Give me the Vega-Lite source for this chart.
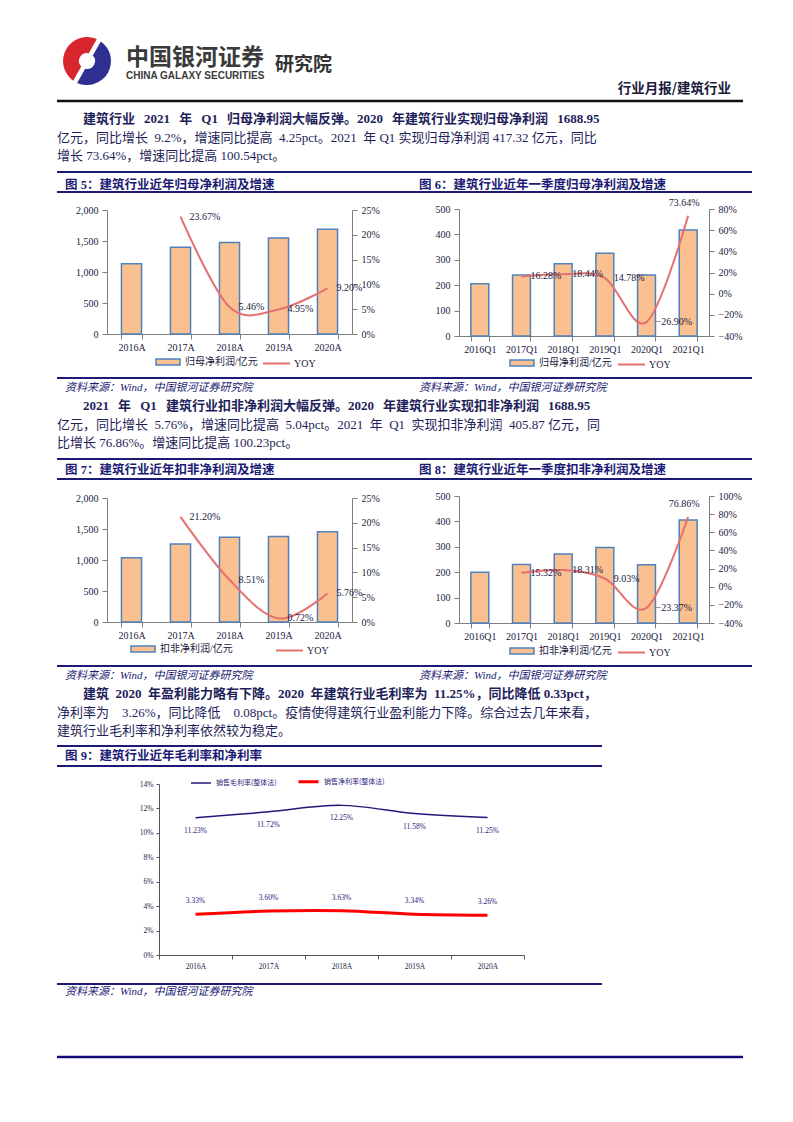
{
  "$schema": "https://vega.github.io/schema/vega-lite/v6.json",
  "usermeta": {"embedOptions": {"actions": false}},
  "background": "white",
  "padding": {"left": 55, "top": 36, "right": 5, "bottom": 5},
  "config": {
    "view": {"stroke": null},
    "font": "Liberation Serif, Noto Sans CJK SC",
    "axis": {"grid": false, "domainColor": "#7F7F7F", "tickColor": "#7F7F7F", "labelColor": "#1A1A40", "labelFont": "Liberation Serif, Noto Sans CJK SC", "labelFontSize": 10},
    "title": {"font": "Liberation Serif, Noto Sans CJK SC", "color": "#1B1A74", "anchor": "start", "frame": "group"},
    "legend": {"labelFont": "Liberation Serif, Noto Sans CJK SC", "labelColor": "#1A1A40", "padding": 0}
  },
  "bounds": "flush",
  "spacing": 0,
  "resolve": {"scale": {"fill": "independent", "stroke": "independent", "color": "independent", "strokeWidth": "independent", "theta": "independent"}},
  "vconcat": [
    {
      "bounds": "flush",
      "spacing": 9,
      "resolve": {"scale": {"color": "independent", "theta": "independent"}},
      "hconcat": [
        {
          "width": 60, "height": 50,
          "data": {"values": [{"part": "blue", "v": 1}, {"part": "red", "v": 1}]},
          "mark": {"type": "arc", "innerRadius": 8, "outerRadius": 24, "padAngle": 0.18},
          "encoding": {
            "theta": {"field": "v", "type": "quantitative", "stack": true, "scale": {"range": [0.52, 6.80]}},
            "color": {"field": "part", "type": "nominal", "scale": {"domain": ["blue", "red"], "range": ["#2E3192", "#D7262E"]}, "legend": null}
          }
        },
        {
          "width": 140, "height": 50,
          "data": {"values": [{}]},
          "mark": {"type": "text"},
          "encoding": {"text": {"value": ""}},
          "title": {"text": "中国银河证券", "subtitle": "CHINA GALAXY SECURITIES", "orient": "top", "anchor": "start", "offset": -45, "font": "Noto Sans CJK SC", "fontSize": 23, "fontWeight": "bold", "color": "#3A3A3A", "subtitleFont": "Liberation Sans Narrow, Liberation Sans", "subtitleFontSize": 10, "subtitleFontWeight": "bold", "subtitleColor": "#3A3A3A", "subtitlePadding": 1}
        },
        {
          "width": 60, "height": 50,
          "data": {"values": [{}]},
          "mark": {"type": "text"},
          "encoding": {"text": {"value": ""}},
          "title": {"text": "研究院", "orient": "top", "anchor": "start", "offset": -39, "font": "Noto Sans CJK SC", "fontSize": 19, "fontWeight": "bold", "color": "#333333"}
        }
      ]
    },
    {"width": 1, "height": 50, "data": {"values": [{}]}, "mark": {"type": "text"}, "encoding": {"text": {"value": ""}}},
    {
      "width": 686, "height": 15,
      "data": {"values": [{}]},
      "mark": {"type": "rule", "color": "#111111", "strokeWidth": 2.5},
      "encoding": {"y": {"datum": 0, "type": "quantitative", "scale": {"domain": [0, 1]}, "axis": null}},
      "title": {"text": "行业月报/建筑行业", "orient": "top", "anchor": "end", "offset": -9.5, "dx": -12, "font": "Noto Sans CJK SC", "fontSize": 13.5, "fontWeight": "bold", "color": "#1A1A3A"}
    },
    {
      "width": 686, "height": 71,
      "data": {"values": [{}]},
      "mark": {"type": "text"},
      "encoding": {"text": {"value": ""}},
      "title": {
        "text": "\u200b\u3000\u3000建筑行业\u2002\u20092021\u2002\u2009年\u2002\u2009Q1\u2002\u2009归母净利润大幅反弹。2020\u2002\u2009年建筑行业实现归母净利润\u2002\u20091688.95",
        "subtitle": ["亿元，同比增长\u20029.2%，增速同比提高\u20024.25pct。2021\u2002年 Q1 实现归母净利润 417.32 亿元，同比", "增长 73.64%，增速同比提高 100.54pct。"],
        "orient": "top", "anchor": "start", "offset": -62.5,
        "fontSize": 13, "fontWeight": "bold", "color": "#1E1E5A",
        "subtitleFont": "Liberation Serif, Noto Sans CJK SC", "subtitleFontSize": 13, "subtitleColor": "#1E1E5A", "subtitlePadding": 6, "subtitleLineHeight": 18.7
      }
    },
    {
      "bounds": "flush",
      "spacing": 0,
      "resolve": {"scale": {"fill": "independent", "stroke": "independent"}},
      "hconcat": [
        {
          "bounds": "flush",
          "spacing": 0,
          "resolve": {"scale": {"fill": "independent", "stroke": "independent"}},
          "vconcat": [
            {
              "width": 353, "height": 20,
              "data": {"values": [{}]},
              "layer": [
                {"mark": {"type": "rule", "color": "#1B1A74", "strokeWidth": 2}, "encoding": {"y": {"datum": 0, "type": "quantitative", "scale": {"domain": [0, 1]}, "axis": null}}},
                {"mark": {"type": "rule", "color": "#1B1A74", "strokeWidth": 2}, "encoding": {"y": {"datum": 1, "type": "quantitative", "scale": {"domain": [0, 1]}, "axis": null}}}
              ],
              "title": {"text": "图 5：建筑行业近年归母净利润及增速", "orient": "top", "anchor": "start", "offset": -20, "dx": 8, "fontSize": 12.5, "fontWeight": "bold", "color": "#1B1A74"}
            },
            {"width": 1, "height": 18, "data": {"values": [{}]}, "mark": {"type": "text"}, "encoding": {"text": {"value": ""}}},
            {
              "bounds": "flush",
              "spacing": 0,
              "resolve": {"scale": {"fill": "independent", "stroke": "independent"}},
              "hconcat": [
                {"width": 50, "height": 1, "data": {"values": [{}]}, "mark": {"type": "text"}, "encoding": {"text": {"value": ""}}},
                {
                  "width": 245, "height": 124,
                  "data": {"values": [
                    {"period": "2016A", "profit": 1132, "yoy": null},
                    {"period": "2017A", "profit": 1400, "yoy": 0.2367},
                    {"period": "2018A", "profit": 1476, "yoy": 0.0546},
                    {"period": "2019A", "profit": 1549, "yoy": 0.0495},
                    {"period": "2020A", "profit": 1688.95, "yoy": 0.092}
                  ]},
                  "encoding": {
                    "x": {"field": "period", "type": "ordinal", "sort": null, "scale": {"paddingInner": 0.59, "paddingOuter": 0.295}, "axis": {"title": null, "labelAngle": 0, "tickBand": "extent", "tickSize": 5, "labelPadding": 3}}
                  },
                  "layer": [
                    {
                      "mark": {"type": "bar", "stroke": "#4F81BD", "strokeWidth": 1.5},
                      "encoding": {
                        "y": {"field": "profit", "type": "quantitative", "scale": {"domain": [0, 2000], "nice": false}, "axis": {"title": null, "values": [0, 500, 1000, 1500, 2000], "format": ",.0f", "tickSize": 5, "labelPadding": 4}},
                        "fill": {"datum": "归母净利润/亿元", "type": "nominal", "scale": {"range": ["#FAC090"]}, "legend": {"orient": "none", "legendX": 48, "legendY": 139, "title": null, "symbolType": "M-1,-0.25H1V0.25H-1Z", "symbolSize": 576, "symbolStrokeColor": "#4F81BD", "symbolStrokeWidth": 1.5, "labelFontSize": 10, "labelOffset": 4}}
                      }
                    },
                    {
                      "mark": {"type": "line", "interpolate": "cardinal", "strokeWidth": 2},
                      "encoding": {
                        "y": {"field": "yoy", "type": "quantitative", "scale": {"domain": [0, 0.25], "nice": false}, "axis": {"title": null, "orient": "right", "format": ".0%", "values": [0, 0.05, 0.1, 0.15, 0.2, 0.25], "tickSize": 5, "labelPadding": 4}},
                        "stroke": {"datum": "YOY", "type": "nominal", "scale": {"range": ["#E5706E"]}, "legend": {"orient": "none", "legendX": 155, "legendY": 139, "title": null, "symbolType": "stroke", "symbolSize": 729, "symbolStrokeWidth": 2, "labelFontSize": 10, "labelOffset": 3}}
                      }
                    },
                    {
                      "mark": {"type": "text", "align": "left", "baseline": "middle", "dx": 9, "fontSize": 10, "color": "#1A1A40"},
                      "encoding": {
                        "y": {"field": "yoy", "type": "quantitative", "scale": {"domain": [0, 0.25], "nice": false}, "axis": null},
                        "text": {"field": "yoy", "type": "quantitative", "format": ".2%"}
                      }
                    }
                  ],
                  "resolve": {"scale": {"y": "independent"}}
                }
              ]
            },
            {"width": 1, "height": 167, "data": {"values": [{}]}, "mark": {"type": "text"}, "encoding": {"text": {"value": ""}}},
            {
              "width": 353, "height": 1,
              "data": {"values": [{}]},
              "mark": {"type": "rule", "color": "#1B1A74", "strokeWidth": 2},
              "encoding": {"y": {"datum": 0, "type": "quantitative", "scale": {"domain": [0, 1]}, "axis": null}},
              "title": {"text": "资料来源：Wind，中国银河证券研究院", "orient": "bottom", "anchor": "start", "offset": 3, "dx": 8, "fontSize": 11, "fontStyle": "italic", "fontWeight": "normal", "color": "#1B1A74"}
            }
          ]
        },
        {"width": 353, "height": 1, "data": {"values": [{}]}, "mark": {"type": "text"}, "encoding": {"text": {"value": ""}}},
        {
          "bounds": "flush",
          "spacing": 0,
          "resolve": {"scale": {"fill": "independent", "stroke": "independent"}},
          "vconcat": [
            {
              "width": 342, "height": 20,
              "data": {"values": [{}]},
              "layer": [
                {"mark": {"type": "rule", "color": "#1B1A74", "strokeWidth": 2}, "encoding": {"y": {"datum": 0, "type": "quantitative", "scale": {"domain": [0, 1]}, "axis": null}}},
                {"mark": {"type": "rule", "color": "#1B1A74", "strokeWidth": 2}, "encoding": {"y": {"datum": 1, "type": "quantitative", "scale": {"domain": [0, 1]}, "axis": null}}}
              ],
              "title": {"text": "图 6：建筑行业近年一季度归母净利润及增速", "orient": "top", "anchor": "start", "offset": -20, "dx": 9, "fontSize": 12.5, "fontWeight": "bold", "color": "#1B1A74"}
            },
            {"width": 1, "height": 17, "data": {"values": [{}]}, "mark": {"type": "text"}, "encoding": {"text": {"value": ""}}},
            {
              "bounds": "flush",
              "spacing": 0,
              "resolve": {"scale": {"fill": "independent", "stroke": "independent"}},
              "hconcat": [
                {"width": 49, "height": 1, "data": {"values": [{}]}, "mark": {"type": "text"}, "encoding": {"text": {"value": ""}}},
                {
                  "width": 250, "height": 127,
                  "data": {"values": [
                    {"period": "2016Q1", "profit": 206, "yoy": null},
                    {"period": "2017Q1", "profit": 240, "yoy": 0.1628},
                    {"period": "2018Q1", "profit": 284, "yoy": 0.1844},
                    {"period": "2019Q1", "profit": 326, "yoy": 0.1478},
                    {"period": "2020Q1", "profit": 240, "yoy": -0.269},
                    {"period": "2021Q1", "profit": 417.32, "yoy": 0.7364}
                  ]},
                  "encoding": {
                    "x": {"field": "period", "type": "ordinal", "sort": null, "scale": {"paddingInner": 0.57, "paddingOuter": 0.285}, "axis": {"title": null, "labelAngle": 0, "tickBand": "extent", "tickSize": 5, "labelPadding": 3}}
                  },
                  "layer": [
                    {
                      "mark": {"type": "bar", "stroke": "#4F81BD", "strokeWidth": 1.5},
                      "encoding": {
                        "y": {"field": "profit", "type": "quantitative", "scale": {"domain": [0, 500], "nice": false}, "axis": {"title": null, "values": [0, 100, 200, 300, 400, 500], "format": "d", "tickSize": 5, "labelPadding": 4}},
                        "fill": {"datum": "归母净利润/亿元", "type": "nominal", "scale": {"range": ["#FAC090"]}, "legend": {"orient": "none", "legendX": 50, "legendY": 141, "title": null, "symbolType": "M-1,-0.25H1V0.25H-1Z", "symbolSize": 576, "symbolStrokeColor": "#4F81BD", "symbolStrokeWidth": 1.5, "labelFontSize": 10, "labelOffset": 4}}
                      }
                    },
                    {
                      "mark": {"type": "line", "interpolate": "cardinal", "strokeWidth": 2},
                      "encoding": {
                        "y": {"field": "yoy", "type": "quantitative", "scale": {"domain": [-0.4, 0.8], "nice": false}, "axis": {"title": null, "orient": "right", "format": ".0%", "values": [-0.4, -0.2, 0, 0.2, 0.4, 0.6, 0.8], "tickSize": 5, "labelPadding": 4}},
                        "stroke": {"datum": "YOY", "type": "nominal", "scale": {"range": ["#E5706E"]}, "legend": {"orient": "none", "legendX": 158, "legendY": 141, "title": null, "symbolType": "stroke", "symbolSize": 729, "symbolStrokeWidth": 2, "labelFontSize": 10, "labelOffset": 3}}
                      }
                    },
                    {
                      "transform": [{"filter": "datum.period !== '2021Q1'"}],
                      "mark": {"type": "text", "align": "left", "baseline": "middle", "dx": 9, "fontSize": 10, "color": "#1A1A40"},
                      "encoding": {
                        "y": {"field": "yoy", "type": "quantitative", "scale": {"domain": [-0.4, 0.8], "nice": false}, "axis": null},
                        "text": {"field": "yoy", "type": "quantitative", "format": ".2%"}
                      }
                    },
                    {
                      "transform": [{"filter": "datum.period === '2021Q1'"}],
                      "mark": {"type": "text", "align": "center", "baseline": "bottom", "dx": -4, "dy": -8, "fontSize": 10, "color": "#1A1A40"},
                      "encoding": {
                        "y": {"field": "yoy", "type": "quantitative", "scale": {"domain": [-0.4, 0.8], "nice": false}, "axis": null},
                        "text": {"field": "yoy", "type": "quantitative", "format": ".2%"}
                      }
                    }
                  ],
                  "resolve": {"scale": {"y": "independent"}}
                }
              ]
            },
            {"width": 1, "height": 168, "data": {"values": [{}]}, "mark": {"type": "text"}, "encoding": {"text": {"value": ""}}},
            {
              "width": 342, "height": 1,
              "data": {"values": [{}]},
              "mark": {"type": "rule", "color": "#1B1A74", "strokeWidth": 2},
              "encoding": {"y": {"datum": 0, "type": "quantitative", "scale": {"domain": [0, 1]}, "axis": null}},
              "title": {"text": "资料来源：Wind，中国银河证券研究院", "orient": "bottom", "anchor": "start", "offset": 3, "dx": 9, "fontSize": 11, "fontStyle": "italic", "fontWeight": "normal", "color": "#1B1A74"}
            }
          ]
        }
      ]
    },
    {"width": 1, "height": 206, "data": {"values": [{}]}, "mark": {"type": "text"}, "encoding": {"text": {"value": ""}}},
    {
      "width": 686, "height": 81,
      "data": {"values": [{}]},
      "mark": {"type": "text"},
      "encoding": {"text": {"value": ""}},
      "title": {
        "text": "\u200b\u3000\u30002021\u2002\u2009年\u2002\u2009Q1\u2002\u2009建筑行业扣非净利润大幅反弹。2020\u2002\u2009年建筑行业实现扣非净利润\u2002\u20091688.95",
        "subtitle": ["亿元，同比增长\u20025.76%，增速同比提高\u20025.04pct。2021\u2002年\u2002Q1\u2002实现扣非净利润\u2002405.87 亿元，同", "比增长 76.86%。增速同比提高 100.23pct。"],
        "orient": "top", "anchor": "start", "offset": -72.5,
        "fontSize": 13, "fontWeight": "bold", "color": "#1E1E5A",
        "subtitleFont": "Liberation Serif, Noto Sans CJK SC", "subtitleFontSize": 13, "subtitleColor": "#1E1E5A", "subtitlePadding": 6, "subtitleLineHeight": 18.7
      }
    },
    {
      "bounds": "flush",
      "spacing": 0,
      "resolve": {"scale": {"fill": "independent", "stroke": "independent"}},
      "hconcat": [
        {
          "bounds": "flush",
          "spacing": 0,
          "resolve": {"scale": {"fill": "independent", "stroke": "independent"}},
          "vconcat": [
            {
              "width": 353, "height": 20,
              "data": {"values": [{}]},
              "layer": [
                {"mark": {"type": "rule", "color": "#1B1A74", "strokeWidth": 2}, "encoding": {"y": {"datum": 0, "type": "quantitative", "scale": {"domain": [0, 1]}, "axis": null}}},
                {"mark": {"type": "rule", "color": "#1B1A74", "strokeWidth": 2}, "encoding": {"y": {"datum": 1, "type": "quantitative", "scale": {"domain": [0, 1]}, "axis": null}}}
              ],
              "title": {"text": "图 7：建筑行业近年扣非净利润及增速", "orient": "top", "anchor": "start", "offset": -18, "dx": 8, "fontSize": 12.5, "fontWeight": "bold", "color": "#1B1A74"}
            },
            {"width": 1, "height": 19, "data": {"values": [{}]}, "mark": {"type": "text"}, "encoding": {"text": {"value": ""}}},
            {
              "bounds": "flush",
              "spacing": 0,
              "resolve": {"scale": {"fill": "independent", "stroke": "independent"}},
              "hconcat": [
                {"width": 50, "height": 1, "data": {"values": [{}]}, "mark": {"type": "text"}, "encoding": {"text": {"value": ""}}},
                {
                  "width": 245, "height": 124,
                  "data": {"values": [
                    {"period": "2016A", "profit": 1038, "yoy": null},
                    {"period": "2017A", "profit": 1258, "yoy": 0.212},
                    {"period": "2018A", "profit": 1368, "yoy": 0.0851},
                    {"period": "2019A", "profit": 1378, "yoy": 0.0072},
                    {"period": "2020A", "profit": 1457, "yoy": 0.0576}
                  ]},
                  "encoding": {
                    "x": {"field": "period", "type": "ordinal", "sort": null, "scale": {"paddingInner": 0.59, "paddingOuter": 0.295}, "axis": {"title": null, "labelAngle": 0, "tickBand": "extent", "tickSize": 5, "labelPadding": 3}}
                  },
                  "layer": [
                    {
                      "mark": {"type": "bar", "stroke": "#4F81BD", "strokeWidth": 1.5},
                      "encoding": {
                        "y": {"field": "profit", "type": "quantitative", "scale": {"domain": [0, 2000], "nice": false}, "axis": {"title": null, "values": [0, 500, 1000, 1500, 2000], "format": ",.0f", "tickSize": 5, "labelPadding": 4}},
                        "fill": {"datum": "扣非净利润/亿元", "type": "nominal", "scale": {"range": ["#FAC090"]}, "legend": {"orient": "none", "legendX": 23, "legendY": 138, "title": null, "symbolType": "M-1,-0.25H1V0.25H-1Z", "symbolSize": 576, "symbolStrokeColor": "#4F81BD", "symbolStrokeWidth": 1.5, "labelFontSize": 10, "labelOffset": 4}}
                      }
                    },
                    {
                      "mark": {"type": "line", "interpolate": "cardinal", "strokeWidth": 2},
                      "encoding": {
                        "y": {"field": "yoy", "type": "quantitative", "scale": {"domain": [0, 0.25], "nice": false}, "axis": {"title": null, "orient": "right", "format": ".0%", "values": [0, 0.05, 0.1, 0.15, 0.2, 0.25], "tickSize": 5, "labelPadding": 4}},
                        "stroke": {"datum": "YOY", "type": "nominal", "scale": {"range": ["#E5706E"]}, "legend": {"orient": "none", "legendX": 168, "legendY": 138, "title": null, "symbolType": "stroke", "symbolSize": 729, "symbolStrokeWidth": 2, "labelFontSize": 10, "labelOffset": 3}}
                      }
                    },
                    {
                      "mark": {"type": "text", "align": "left", "baseline": "middle", "dx": 9, "fontSize": 10, "color": "#1A1A40"},
                      "encoding": {
                        "y": {"field": "yoy", "type": "quantitative", "scale": {"domain": [0, 0.25], "nice": false}, "axis": null},
                        "text": {"field": "yoy", "type": "quantitative", "format": ".2%"}
                      }
                    }
                  ],
                  "resolve": {"scale": {"y": "independent"}}
                }
              ]
            },
            {"width": 1, "height": 167, "data": {"values": [{}]}, "mark": {"type": "text"}, "encoding": {"text": {"value": ""}}},
            {
              "width": 353, "height": 1,
              "data": {"values": [{}]},
              "mark": {"type": "rule", "color": "#1B1A74", "strokeWidth": 2},
              "encoding": {"y": {"datum": 0, "type": "quantitative", "scale": {"domain": [0, 1]}, "axis": null}},
              "title": {"text": "资料来源：Wind，中国银河证券研究院", "orient": "bottom", "anchor": "start", "offset": 3, "dx": 8, "fontSize": 11, "fontStyle": "italic", "fontWeight": "normal", "color": "#1B1A74"}
            }
          ]
        },
        {"width": 353, "height": 1, "data": {"values": [{}]}, "mark": {"type": "text"}, "encoding": {"text": {"value": ""}}},
        {
          "bounds": "flush",
          "spacing": 0,
          "resolve": {"scale": {"fill": "independent", "stroke": "independent"}},
          "vconcat": [
            {
              "width": 342, "height": 20,
              "data": {"values": [{}]},
              "layer": [
                {"mark": {"type": "rule", "color": "#1B1A74", "strokeWidth": 2}, "encoding": {"y": {"datum": 0, "type": "quantitative", "scale": {"domain": [0, 1]}, "axis": null}}},
                {"mark": {"type": "rule", "color": "#1B1A74", "strokeWidth": 2}, "encoding": {"y": {"datum": 1, "type": "quantitative", "scale": {"domain": [0, 1]}, "axis": null}}}
              ],
              "title": {"text": "图 8：建筑行业近年一季度扣非净利润及增速", "orient": "top", "anchor": "start", "offset": -18, "dx": 9, "fontSize": 12.5, "fontWeight": "bold", "color": "#1B1A74"}
            },
            {"width": 1, "height": 17, "data": {"values": [{}]}, "mark": {"type": "text"}, "encoding": {"text": {"value": ""}}},
            {
              "bounds": "flush",
              "spacing": 0,
              "resolve": {"scale": {"fill": "independent", "stroke": "independent"}},
              "hconcat": [
                {"width": 49, "height": 1, "data": {"values": [{}]}, "mark": {"type": "text"}, "encoding": {"text": {"value": ""}}},
                {
                  "width": 250, "height": 127,
                  "data": {"values": [
                    {"period": "2016Q1", "profit": 199.5, "yoy": null},
                    {"period": "2017Q1", "profit": 230, "yoy": 0.1532},
                    {"period": "2018Q1", "profit": 272, "yoy": 0.1831},
                    {"period": "2019Q1", "profit": 297, "yoy": 0.0903},
                    {"period": "2020Q1", "profit": 229.5, "yoy": -0.2337},
                    {"period": "2021Q1", "profit": 405.87, "yoy": 0.7686}
                  ]},
                  "encoding": {
                    "x": {"field": "period", "type": "ordinal", "sort": null, "scale": {"paddingInner": 0.57, "paddingOuter": 0.285}, "axis": {"title": null, "labelAngle": 0, "tickBand": "extent", "tickSize": 5, "labelPadding": 3}}
                  },
                  "layer": [
                    {
                      "mark": {"type": "bar", "stroke": "#4F81BD", "strokeWidth": 1.5},
                      "encoding": {
                        "y": {"field": "profit", "type": "quantitative", "scale": {"domain": [0, 500], "nice": false}, "axis": {"title": null, "values": [0, 100, 200, 300, 400, 500], "format": "d", "tickSize": 5, "labelPadding": 4}},
                        "fill": {"datum": "扣非净利润/亿元", "type": "nominal", "scale": {"range": ["#FAC090"]}, "legend": {"orient": "none", "legendX": 50, "legendY": 142, "title": null, "symbolType": "M-1,-0.25H1V0.25H-1Z", "symbolSize": 576, "symbolStrokeColor": "#4F81BD", "symbolStrokeWidth": 1.5, "labelFontSize": 10, "labelOffset": 4}}
                      }
                    },
                    {
                      "mark": {"type": "line", "interpolate": "cardinal", "strokeWidth": 2},
                      "encoding": {
                        "y": {"field": "yoy", "type": "quantitative", "scale": {"domain": [-0.4, 1.0], "nice": false}, "axis": {"title": null, "orient": "right", "format": ".0%", "values": [-0.4, -0.2, 0, 0.2, 0.4, 0.6, 0.8, 1.0], "tickSize": 5, "labelPadding": 4}},
                        "stroke": {"datum": "YOY", "type": "nominal", "scale": {"range": ["#E5706E"]}, "legend": {"orient": "none", "legendX": 158, "legendY": 142, "title": null, "symbolType": "stroke", "symbolSize": 729, "symbolStrokeWidth": 2, "labelFontSize": 10, "labelOffset": 3}}
                      }
                    },
                    {
                      "transform": [{"filter": "datum.period !== '2021Q1'"}],
                      "mark": {"type": "text", "align": "left", "baseline": "middle", "dx": 9, "fontSize": 10, "color": "#1A1A40"},
                      "encoding": {
                        "y": {"field": "yoy", "type": "quantitative", "scale": {"domain": [-0.4, 1.0], "nice": false}, "axis": null},
                        "text": {"field": "yoy", "type": "quantitative", "format": ".2%"}
                      }
                    },
                    {
                      "transform": [{"filter": "datum.period === '2021Q1'"}],
                      "mark": {"type": "text", "align": "center", "baseline": "bottom", "dx": -4, "dy": -8, "fontSize": 10, "color": "#1A1A40"},
                      "encoding": {
                        "y": {"field": "yoy", "type": "quantitative", "scale": {"domain": [-0.4, 1.0], "nice": false}, "axis": null},
                        "text": {"field": "yoy", "type": "quantitative", "format": ".2%"}
                      }
                    }
                  ],
                  "resolve": {"scale": {"y": "independent"}}
                }
              ]
            },
            {"width": 1, "height": 169, "data": {"values": [{}]}, "mark": {"type": "text"}, "encoding": {"text": {"value": ""}}},
            {
              "width": 342, "height": 1,
              "data": {"values": [{}]},
              "mark": {"type": "rule", "color": "#1B1A74", "strokeWidth": 2},
              "encoding": {"y": {"datum": 0, "type": "quantitative", "scale": {"domain": [0, 1]}, "axis": null}},
              "title": {"text": "资料来源：Wind，中国银河证券研究院", "orient": "bottom", "anchor": "start", "offset": 3, "dx": 9, "fontSize": 11, "fontStyle": "italic", "fontWeight": "normal", "color": "#1B1A74"}
            }
          ]
        }
      ]
    },
    {"width": 1, "height": 207, "data": {"values": [{}]}, "mark": {"type": "text"}, "encoding": {"text": {"value": ""}}},
    {
      "width": 686, "height": 80,
      "data": {"values": [{}]},
      "mark": {"type": "text"},
      "encoding": {"text": {"value": ""}},
      "title": {
        "text": "\u200b\u3000\u3000建筑\u20022020\u2002年盈利能力略有下降。2020\u2002年建筑行业毛利率为\u200211.25%，同比降低 0.33pct，",
        "subtitle": ["净利率为\u20033.26%，同比降低\u20030.08pct。疫情使得建筑行业盈利能力下降。综合过去几年来看，", "建筑行业毛利率和净利率依然较为稳定。"],
        "orient": "top", "anchor": "start", "offset": -72.5,
        "fontSize": 13, "fontWeight": "bold", "color": "#1E1E5A",
        "subtitleFont": "Liberation Serif, Noto Sans CJK SC", "subtitleFontSize": 13, "subtitleColor": "#1E1E5A", "subtitlePadding": 6, "subtitleLineHeight": 18.7
      }
    },
    {
      "bounds": "flush",
      "spacing": 0,
      "resolve": {"scale": {"color": "independent", "strokeWidth": "independent"}},
      "vconcat": [
        {
          "width": 545, "height": 20,
          "data": {"values": [{}]},
          "layer": [
            {"mark": {"type": "rule", "color": "#1B1A74", "strokeWidth": 2}, "encoding": {"y": {"datum": 0, "type": "quantitative", "scale": {"domain": [0, 1]}, "axis": null}}},
            {"mark": {"type": "rule", "color": "#1B1A74", "strokeWidth": 2}, "encoding": {"y": {"datum": 1, "type": "quantitative", "scale": {"domain": [0, 1]}, "axis": null}}}
          ],
          "title": {"text": "图 9：建筑行业近年毛利率和净利率", "orient": "top", "anchor": "start", "offset": -17, "dx": 8, "fontSize": 12.5, "fontWeight": "bold", "color": "#1B1A74"}
        },
        {"width": 1, "height": 18, "data": {"values": [{}]}, "mark": {"type": "text"}, "encoding": {"text": {"value": ""}}},
        {
          "bounds": "flush",
          "spacing": 0,
          "resolve": {"scale": {"color": "independent", "strokeWidth": "independent"}},
          "hconcat": [
            {"width": 102, "height": 1, "data": {"values": [{}]}, "mark": {"type": "text"}, "encoding": {"text": {"value": ""}}},
            {
              "width": 365, "height": 171,
              "data": {"values": [
                {"year": "2016A", "series": "销售毛利率(整体法)", "rate": 0.1123},
                {"year": "2017A", "series": "销售毛利率(整体法)", "rate": 0.1172},
                {"year": "2018A", "series": "销售毛利率(整体法)", "rate": 0.1225},
                {"year": "2019A", "series": "销售毛利率(整体法)", "rate": 0.1158},
                {"year": "2020A", "series": "销售毛利率(整体法)", "rate": 0.1125},
                {"year": "2016A", "series": "销售净利率(整体法)", "rate": 0.0333},
                {"year": "2017A", "series": "销售净利率(整体法)", "rate": 0.036},
                {"year": "2018A", "series": "销售净利率(整体法)", "rate": 0.0363},
                {"year": "2019A", "series": "销售净利率(整体法)", "rate": 0.0334},
                {"year": "2020A", "series": "销售净利率(整体法)", "rate": 0.0326}
              ]},
              "encoding": {
                "x": {"field": "year", "type": "ordinal", "sort": null, "scale": {"type": "band", "paddingInner": 0, "paddingOuter": 0}, "axis": {"title": null, "labelAngle": 0, "tickBand": "extent", "tickSize": 4, "labelPadding": 3, "labelFontSize": 7.5, "domainColor": "#555555", "tickColor": "#555555"}},
                "y": {"field": "rate", "type": "quantitative", "scale": {"domain": [0, 0.14], "nice": false}, "axis": {"title": null, "format": ".0%", "values": [0, 0.02, 0.04, 0.06, 0.08, 0.1, 0.12, 0.14], "labelOverlap": false, "tickSize": 3, "labelPadding": 3, "labelFontSize": 7.5, "domainColor": "#555555", "tickColor": "#555555"}}
              },
              "layer": [
                {
                  "mark": {"type": "line", "interpolate": "cardinal"},
                  "encoding": {
                    "color": {"field": "series", "type": "nominal", "scale": {"domain": ["销售毛利率(整体法)", "销售净利率(整体法)"], "range": ["#1F1A7A", "#FF0000"]}, "legend": {"orient": "none", "legendX": 31, "legendY": -14, "direction": "horizontal", "title": null, "symbolType": "stroke", "symbolSize": 400, "symbolStrokeWidth": 2.5, "labelFontSize": 7, "labelFont": "Noto Sans CJK SC", "labelColor": "#1F1A7A", "columnPadding": 15, "labelOffset": 4}},
                    "strokeWidth": {"field": "series", "type": "nominal", "scale": {"domain": ["销售毛利率(整体法)", "销售净利率(整体法)"], "range": [1.5, 3]}, "legend": null}
                  }
                },
                {
                  "transform": [{"filter": "datum.series === '销售毛利率(整体法)'"}],
                  "mark": {"type": "text", "baseline": "middle", "dy": 13, "fontSize": 7.5, "color": "#1F1A7A"},
                  "encoding": {"text": {"field": "rate", "type": "quantitative", "format": ".2%"}}
                },
                {
                  "transform": [{"filter": "datum.series === '销售净利率(整体法)'"}],
                  "mark": {"type": "text", "baseline": "middle", "dy": -13, "fontSize": 7.5, "color": "#1F1A7A"},
                  "encoding": {"text": {"field": "rate", "type": "quantitative", "format": ".2%"}}
                }
              ]
            }
          ]
        },
        {"width": 1, "height": 199, "data": {"values": [{}]}, "mark": {"type": "text"}, "encoding": {"text": {"value": ""}}},
        {
          "width": 545, "height": 1,
          "data": {"values": [{}]},
          "mark": {"type": "rule", "color": "#1B1A74", "strokeWidth": 2},
          "encoding": {"y": {"datum": 0, "type": "quantitative", "scale": {"domain": [0, 1]}, "axis": null}},
          "title": {"text": "资料来源：Wind，中国银河证券研究院", "orient": "bottom", "anchor": "start", "offset": 1, "dx": 8, "fontSize": 11, "fontStyle": "italic", "fontWeight": "normal", "color": "#1B1A74"}
        }
      ]
    },
    {"width": 1, "height": 238, "data": {"values": [{}]}, "mark": {"type": "text"}, "encoding": {"text": {"value": ""}}},
    {
      "width": 686, "height": 73,
      "data": {"values": [{}]},
      "mark": {"type": "rule", "color": "#14087E", "strokeWidth": 2.5},
      "encoding": {"y": {"datum": 0, "type": "quantitative", "scale": {"domain": [0, 1]}, "axis": null}}
    }
  ]
}
